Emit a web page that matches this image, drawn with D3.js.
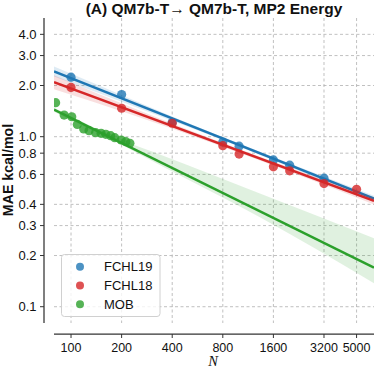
<!DOCTYPE html>
<html>
<head>
<meta charset="utf-8">
<script src="https://cdn.jsdelivr.net/npm/d3@7"></script>
<style>
html,body{margin:0;padding:0;background:#fff;}
svg{display:block;}
</style>
</head>
<body>
<script>
// ---------- data ----------
const xTicks = [100, 200, 400, 800, 1600, 3200, 5000];
const yTicks = [0.1, 0.2, 0.3, 0.4, 0.6, 0.8, 1.0, 2.0, 3.0, 4.0];
const seriesNames = ["FCHL19", "FCHL18", "MOB"];

const fchl19N = [100, 200, 400, 800, 1000, 1600, 2000, 3200];
const fchl19MAE = [2.24, 1.77, 1.21, 0.93, 0.88, 0.73, 0.68, 0.57];
const fchl18N = [100, 200, 400, 800, 1000, 1600, 2000, 3200, 5000];
const fchl18MAE = [1.95, 1.47, 1.20, 0.885, 0.79, 0.665, 0.63, 0.53, 0.49];
const mobN = [81, 91, 101, 109, 119, 128, 140, 151, 161, 172, 182, 199, 212, 224];
const mobMAE = [1.585, 1.34, 1.31, 1.18, 1.11, 1.085, 1.056, 1.047, 1.033, 1.014, 0.987, 0.956, 0.935, 0.915];

// regression fit lines (read at the axis ends)
const fitN = [79.2, 6348];
const fchl19Fit = [2.418, 0.4318];
const fchl18Fit = [2.092, 0.419];
const mobFit = [1.441, 0.170];

// confidence bands
const bandN = [79.2, 240, 700, 2100, 6348];
const fchl19Lo = [2.26, 1.502, 1.006, 0.649, 0.4146];
const fchl19Hi = [2.587, 1.629, 1.048, 0.685, 0.4497];
const fchl18Lo = [1.903, 1.328, 0.915, 0.612, 0.3996];
const fchl18Hi = [2.300, 1.461, 0.966, 0.646, 0.4394];
const mobBandN = [79.2, 224, 353, 1330, 6348];
const mobLo = [1.40, 0.843, 0.666, 0.336, 0.1375];
const mobHi = [1.48, 0.915, 0.773, 0.463, 0.253];

// ---------- chart ----------
const W = 374, H = 368;
const colors = ["#1f77b4", "#d62728", "#2ca02c"];
const svg = d3.select("body").append("svg").attr("width", W).attr("height", H);

const x = d3.scaleLog().base(2).domain([79.2, 6348]).range([54, 374]);
const y = d3.scaleLog().domain([0.0802, 4.99]).range([323, 18]);

// grid
const grid = svg.append("g");
grid.selectAll("line.v").data(xTicks).enter().append("line")
  .attr("x1", d => x(d)).attr("x2", d => x(d))
  .attr("y1", y.range()[1]).attr("y2", y.range()[0])
  .attr("stroke", "#b0b0b0").attr("stroke-width", 0.8).attr("stroke-dasharray", "3,2.5");
grid.selectAll("line.h").data(yTicks).enter().append("line")
  .attr("x1", x.range()[0]).attr("x2", x.range()[1])
  .attr("y1", d => y(d)).attr("y2", d => y(d))
  .attr("stroke", "#b0b0b0").attr("stroke-width", 0.8).attr("stroke-dasharray", "3,2.5");

const series = [
  {N: fchl19N, v: fchl19MAE, fit: fchl19Fit, bN: bandN, lo: fchl19Lo, hi: fchl19Hi},
  {N: fchl18N, v: fchl18MAE, fit: fchl18Fit, bN: bandN, lo: fchl18Lo, hi: fchl18Hi},
  {N: mobN, v: mobMAE, fit: mobFit, bN: mobBandN, lo: mobLo, hi: mobHi}
];

svg.append("clipPath").attr("id", "pc").append("rect")
  .attr("x", 54).attr("y", 18).attr("width", 320).attr("height", 305);
const plot = svg.append("g").attr("clip-path", "url(#pc)");

const area = d3.area().x(d => x(d[0])).y0(d => y(d[1])).y1(d => y(d[2])).curve(d3.curveMonotoneX);
const line = d3.line().x(d => x(d[0])).y(d => y(d[1]));

series.forEach((s, i) => {
  const g = plot.append("g");
  g.selectAll("circle").data(s.N.map((n, j) => [n, s.v[j]])).enter().append("circle")
    .attr("cx", d => x(d[0])).attr("cy", d => y(d[1])).attr("r", 4.6)
    .attr("fill", colors[i]).attr("fill-opacity", 0.8);
  g.append("path").datum(s.bN.map((n, j) => [n, s.lo[j], s.hi[j]]))
    .attr("d", area).attr("fill", colors[i]).attr("fill-opacity", 0.15);
  g.append("path").datum(fitN.map((n, j) => [n, s.fit[j]]))
    .attr("d", line).attr("stroke", colors[i]).attr("stroke-width", 2.5).attr("fill", "none");
});

// axes
const axCol = "#333";
svg.append("line").attr("x1", 44).attr("x2", 44).attr("y1", 18).attr("y2", 323)
  .attr("stroke", axCol).attr("stroke-width", 1.25);
svg.append("line").attr("x1", 54).attr("x2", 374).attr("y1", 334).attr("y2", 334)
  .attr("stroke", axCol).attr("stroke-width", 1.25);

const font = "'Liberation Sans', Arial, Helvetica, sans-serif";
const yAxis = svg.append("g");
yTicks.forEach(t => {
  yAxis.append("line").attr("x1", 40).attr("x2", 44).attr("y1", y(t)).attr("y2", y(t))
    .attr("stroke", axCol).attr("stroke-width", 1);
  yAxis.append("text").attr("x", 36.5).attr("y", y(t)).attr("dy", "0.36em")
    .attr("text-anchor", "end").attr("font-family", font).attr("font-size", 13)
    .attr("fill", "#111").text(d3.format(".1f")(t));
});
const xAxis = svg.append("g");
xTicks.forEach(t => {
  xAxis.append("line").attr("x1", x(t)).attr("x2", x(t)).attr("y1", 334).attr("y2", 338)
    .attr("stroke", axCol).attr("stroke-width", 1);
  xAxis.append("text").attr("x", x(t)).attr("y", 351.5)
    .attr("text-anchor", "middle").attr("font-family", font).attr("font-size", 12.5)
    .attr("fill", "#111").text(t);
});

// labels
svg.append("text").attr("x", 214).attr("y", 14).attr("text-anchor", "middle")
  .attr("font-family", font).attr("font-size", 15.5).attr("font-weight", "bold")
  .attr("fill", "#111").text("(A) QM7b-T\u2192 QM7b-T, MP2 Energy");
svg.append("text").attr("transform", "translate(12.5,170) rotate(-90)").attr("text-anchor", "middle")
  .attr("font-family", font).attr("font-size", 14.2).attr("font-weight", "bold")
  .attr("fill", "#111").text("MAE kcal/mol");
svg.append("text").attr("x", 213).attr("y", 366).attr("text-anchor", "middle")
  .attr("font-family", "'Liberation Serif', 'Times New Roman', serif").attr("font-style", "italic")
  .attr("font-size", 14.5).attr("fill", "#111").text("N");

// legend
const lg = svg.append("g");
lg.append("rect").attr("x", 61.5).attr("y", 254.5).attr("width", 98.5).attr("height", 62)
  .attr("rx", 3).attr("fill", "#fff").attr("fill-opacity", 0.8)
  .attr("stroke", "#d0d0d0").attr("stroke-width", 1);
seriesNames.forEach((n, i) => {
  const cy = 266.7 + i * 18.8;
  lg.append("circle").attr("cx", 80).attr("cy", cy).attr("r", 4)
    .attr("fill", colors[i]).attr("fill-opacity", 0.8);
  lg.append("text").attr("x", 104).attr("y", cy).attr("dy", "0.36em")
    .attr("font-family", font).attr("font-size", 13).attr("fill", "#111").text(n);
});
</script>
</body>
</html>
